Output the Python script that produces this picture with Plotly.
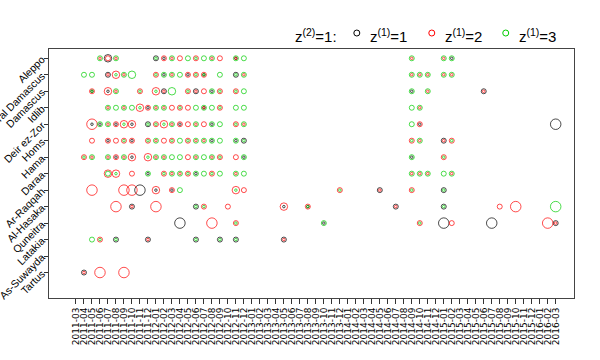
import plotly.graph_objects as go

# ---------------- data ----------------
MONTHS = [f"{y}-{m:02d}" for y in range(2011, 2017) for m in range(1, 13)]
MONTHS = MONTHS[MONTHS.index("2011-03"):MONTHS.index("2016-03") + 1]

REGIONS = ["Aleppo", "Rural Damascus", "Damascus", "Idlib", "Deir ez-Zor", "Homs",
           "Hama", "Daraa", "Ar-Raqqah", "Al-Hasaka", "Quneitra", "Latakia",
           "As-Suwayda", "Tartus"]

# each cell: (month, value for z1=1 [black], z1=2 [red], z1=3 [green]); 0 = none
ALEPPO = [("2011-06",0,1,2),("2011-07",3,2,0),("2011-08",0,1,2),("2012-01",2,0,1),
          ("2012-02",1,2,0),("2012-03",0,1,2),("2012-04",0,2,0),("2012-05",0,0,2),
          ("2012-06",0,2,1),("2012-07",0,0,2),("2012-08",0,1,2),("2012-09",0,2,0),
          ("2012-11",1,1,2),("2012-12",0,0,2),("2014-09",0,1,2),("2015-01",0,1,2),
          ("2015-02",1,0,2)]
RURAL_DAMASCUS = [("2011-04",0,0,2),("2011-05",0,0,2),("2011-07",2,1,0),("2011-08",0,3,1),
          ("2011-09",0,1,2),("2011-10",0,0,3),("2012-01",0,2,1),("2012-02",1,0,2),
          ("2012-03",0,1,2),("2012-04",0,0,2),("2012-05",1,2,0),("2012-06",0,2,1),
          ("2012-07",1,2,1),("2012-09",0,0,2),("2012-11",2,0,1),("2012-12",0,1,2),
          ("2014-09",0,1,2),("2014-10",0,1,2),("2014-11",0,1,2),("2015-01",0,1,2),
          ("2015-02",0,1,2)]
DAMASCUS = [("2011-05",1,2,1),("2011-07",1,3,0),("2011-08",0,1,2),("2011-11",0,2,1),
          ("2012-01",0,3,1),("2012-02",2,1,0),("2012-03",0,0,3),("2012-05",0,2,1),
          ("2012-06",2,1,0),("2012-07",0,2,0),("2012-08",1,0,2),("2012-09",0,2,1),
          ("2012-11",0,2,1),("2012-12",0,0,2),("2014-09",1,0,2),("2014-11",0,1,2),
          ("2015-06",2,1,0)]
IDLIB = [("2011-07",0,1,2),("2011-08",0,0,2),("2011-09",0,1,2),("2011-10",0,0,2),
          ("2011-11",0,3,1),("2011-12",1,2,0),("2012-01",0,1,2),("2012-02",0,1,2),
          ("2012-03",0,2,0),("2012-04",0,2,1),("2012-05",0,2,0),("2012-06",0,0,2),
          ("2012-07",1,1,2),("2012-08",0,0,2),("2012-09",0,2,1),("2012-11",0,0,2),
          ("2012-12",0,0,2),("2014-09",0,0,2),("2014-10",0,1,2)]
DEIR_EZ_ZOR = [("2011-05",1,4,0),("2011-06",1,0,2),("2011-07",0,1,2),("2011-08",1,2,0),
          ("2011-09",0,3,1),("2011-10",1,3,0),("2011-12",2,0,1),("2012-01",0,2,1),
          ("2012-02",0,3,1),("2012-03",0,1,2),("2012-04",1,2,0),("2012-05",0,2,0),
          ("2012-06",0,1,2),("2012-07",0,2,0),("2012-08",1,0,2),("2012-09",0,0,2),
          ("2012-11",0,2,1),("2012-12",0,1,2),("2014-09",0,0,2),("2014-10",1,2,0),
          ("2016-03",4,0,0)]
HOMS = [("2011-05",0,2,0),("2011-07",1,2,0),("2011-08",0,2,0),("2011-09",0,2,1),
          ("2011-10",1,2,0),("2011-12",0,2,1),("2012-01",0,1,2),("2012-02",0,2,0),
          ("2012-03",0,2,1),("2012-04",0,0,2),("2012-05",0,2,1),("2012-06",0,1,2),
          ("2012-07",0,1,2),("2012-08",1,0,2),("2012-09",0,0,2),("2012-11",1,0,2),
          ("2012-12",2,0,1),("2014-09",0,2,1),("2014-10",0,1,2),("2015-01",2,1,0),
          ("2015-02",0,2,1)]
HAMA = [("2011-04",0,2,1),("2011-05",0,1,2),("2011-07",0,1,2),("2011-08",1,2,0),
          ("2011-09",0,1,2),("2011-10",1,3,0),("2011-12",0,3,1),("2012-01",0,1,2),
          ("2012-02",0,1,2),("2012-03",0,0,2),("2012-04",0,0,2),("2012-05",0,2,0),
          ("2012-06",0,1,2),("2012-07",0,0,2),("2012-08",0,1,2),("2012-09",0,2,1),
          ("2012-11",0,2,0),("2012-12",1,0,2),("2014-09",1,0,2),("2015-01",0,2,1)]
DARAA = [("2011-07",0,3,2),("2011-08",0,3,1),("2011-10",0,2,0),("2011-12",1,0,2),
          ("2012-02",0,2,1),("2012-03",0,1,2),("2012-04",0,1,2),("2012-05",0,2,1),
          ("2012-06",1,0,2),("2012-07",0,0,2),("2012-08",0,2,1),("2012-09",0,0,2),
          ("2012-11",0,1,2),("2012-12",0,0,2),("2014-09",0,1,2),("2014-10",0,1,2),
          ("2014-11",0,1,2),("2015-01",0,0,2),("2015-02",0,1,2)]
AR_RAQQAH = [("2011-05",0,4,0),("2011-09",0,4,0),("2011-10",0,4,0),("2011-11",4,0,0),
          ("2012-01",1,3,0),("2012-03",1,2,0),("2012-04",0,0,2),("2012-11",0,3,1),
          ("2012-12",0,2,0),("2013-12",0,2,1),("2014-05",2,1,0),("2014-09",0,2,1),
          ("2015-01",2,0,1)]
AL_HASAKA = [("2011-08",0,4,0),("2011-10",2,1,0),("2012-01",0,4,0),("2012-06",2,0,1),
          ("2012-07",0,2,1),("2012-10",0,2,0),("2013-05",1,3,0),("2013-08",1,2,1),
          ("2014-07",2,1,0),("2015-01",2,0,1),("2015-08",0,2,0),("2015-10",0,4,0),
          ("2016-03",0,0,4)]
QUNEITRA = [("2012-04",4,0,0),("2012-08",0,4,0),("2012-11",0,2,1),("2013-10",1,0,2),
          ("2014-10",0,2,1),("2015-01",4,0,0),("2015-02",0,2,0),("2015-07",4,0,0),
          ("2016-02",0,4,0),("2016-03",2,1,0)]
LATAKIA = [("2011-05",0,0,2),("2011-06",0,2,1),("2011-08",2,0,1),("2011-12",2,1,0),
          ("2012-06",2,0,1),("2012-09",2,0,1),("2012-11",2,0,1),("2013-05",2,1,0)]
AS_SUWAYDA = []
TARTUS = [("2011-04",2,1,0),("2011-06",0,4,0),("2011-09",0,4,0)]

ROWS = [ALEPPO, RURAL_DAMASCUS, DAMASCUS, IDLIB, DEIR_EZ_ZOR, HOMS, HAMA, DARAA,
        AR_RAQQAH, AL_HASAKA, QUNEITRA, LATAKIA, AS_SUWAYDA, TARTUS]

SERIES = ["z1=1", "z1=2", "z1=3"]
COLORS = ["#000000", "#FF0000", "#00CD00"]
SIZE_PX = {1: 2.5, 2: 5, 3: 7.5, 4: 10.5}

# ---------------- figure ----------------
FONT = "Liberation Sans, Arial, Helvetica, sans-serif"
fig = go.Figure()
for k, (name, col) in enumerate(zip(SERIES, COLORS)):
    xs, ys, ss = [], [], []
    for region, cells in zip(REGIONS, ROWS):
        for c in cells:
            v = c[k + 1]
            if v:
                xs.append(c[0]); ys.append(region); ss.append(SIZE_PX[v])
    fig.add_trace(go.Scatter(
        x=xs, y=ys, mode="markers", name=name, showlegend=False, hoverinfo="skip",
        marker=dict(symbol="circle-open", size=ss, color=col, line=dict(width=1, color=col)),
    ))

FW, FH = 600, 360
# plot box in page pixels
L, R, T, B = 49, 574.3, 49, 298.3
W, H = R - L, B - T

def px(x):
    return (x - L) / W

def py(y):
    return (B - y) / H

fig.update_layout(
    width=FW, height=FH,
    margin=dict(l=L, r=FW - R, t=T, b=FH - B, autoexpand=False),
    paper_bgcolor="white", plot_bgcolor="white",
    font=dict(family=FONT, color="black"),
    xaxis=dict(type="category", categoryorder="array", categoryarray=MONTHS,
               tickvals=MONTHS, ticktext=MONTHS, range=[-3.375, 62.29],
               tickangle=-90, ticks="outside", ticklen=5, tickcolor="#333",
               tickfont=dict(size=9, family="DejaVu Sans"), showgrid=False, zeroline=False,
               showline=True, mirror=True, linecolor="#444", linewidth=1,
               automargin=False),
    yaxis=dict(type="category", categoryorder="array", categoryarray=REGIONS[::-1],
               range=[-1.545, 13.564], tickangle=-45, ticks="outside", ticklen=4,
               tickcolor="#333", tickfont=dict(size=10.5, family=FONT), showgrid=False,
               zeroline=False, showline=True, mirror=True, linecolor="#444", linewidth=1,
               automargin=False),
)

# legend row on top
ly = 35
fig.add_annotation(x=px(339), y=py(ly), xref="paper", yref="paper", xanchor="right",
                   yanchor="middle", text="z<sup>(2)</sup>=1:", showarrow=False,
                   font=dict(size=15, family=FONT))
for cx, tx, col, lab in [(357, 368, COLORS[0], "z<sup>(1)</sup>=1"),
                         (432, 443, COLORS[1], "z<sup>(1)</sup>=2"),
                         (506, 517, COLORS[2], "z<sup>(1)</sup>=3")]:
    fig.add_shape(type="circle", xref="paper", yref="paper", xsizemode="pixel",
                  ysizemode="pixel", xanchor=px(cx), yanchor=py(33),
                  x0=-3, x1=3, y0=-3, y1=3, line=dict(color=col, width=1))
    fig.add_annotation(x=px(tx), y=py(ly), xref="paper", yref="paper", xanchor="left",
                       yanchor="middle", text=lab, showarrow=False,
                       font=dict(size=15, family=FONT))

fig.write_html("out.html", config={"displayModeBar": False},
               post_script="document.body.style.margin='0px';")
